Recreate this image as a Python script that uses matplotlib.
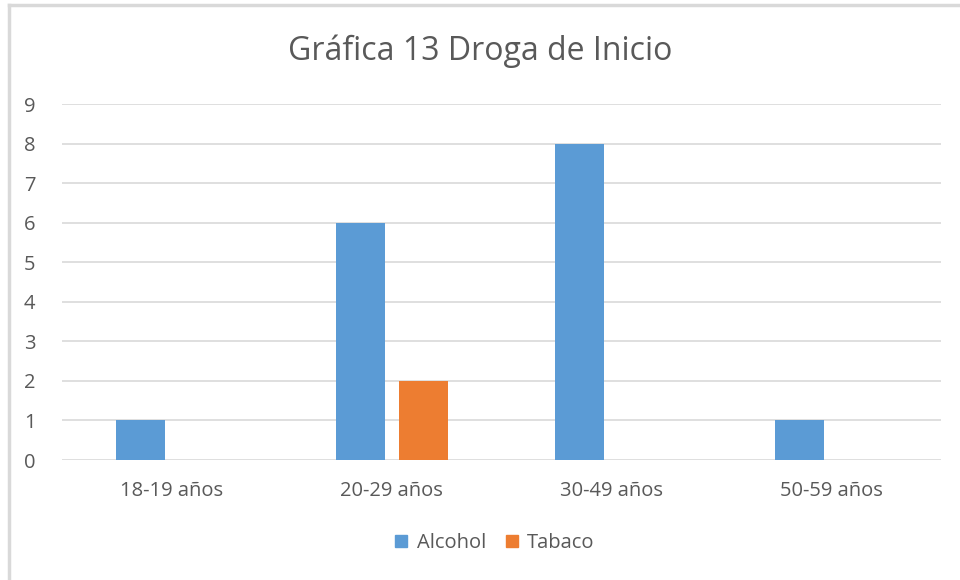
import matplotlib
matplotlib.use("Agg")
import matplotlib.pyplot as plt
import numpy as np
from matplotlib.lines import Line2D

plt.rcParams["font.family"] = ["Open Sans", "DejaVu Sans"]

categories = ["18-19 años", "20-29 años", "30-49 años", "50-59 años"]
alcohol = [1, 6, 8, 1]
tabaco = [0, 2, 0, 0]
series_names = ["Alcohol", "Tabaco"]

C_ALC = "#5b9bd5"
C_TAB = "#ed7d31"
C_TXT = "#595959"
C_GRID = "#d9d9d9"

fig = plt.figure(figsize=(9.6, 5.8), dpi=100)
ax = fig.add_axes([62 / 960, 1 - 460 / 580, 879 / 960, 356 / 580])

x = np.arange(len(categories))
w = 0.223
off = 0.143
ax.bar(x - off, alcohol, w, color=C_ALC, linewidth=0, zorder=3)
ax.bar(x + off, tabaco, w, color=C_TAB, linewidth=0, zorder=3)

ax.set_xlim(-0.5, len(categories) - 0.5)
ax.set_ylim(0, 9)
ax.set_yticks(range(0, 10))
ax.set_xticks(x)
ax.set_xticklabels(categories)
ax.tick_params(axis="both", length=0, labelsize=14.5, colors=C_TXT)
ax.tick_params(axis="y", pad=19)
ax.tick_params(axis="x", pad=15)
ax.grid(axis="y", color=C_GRID, linewidth=1.2, zorder=0)
for s in ax.spines.values():
    s.set_visible(False)

fig.text(0.5, 1 - 51 / 580, "Gráfica 13 Droga de Inicio", ha="center", va="center",
         fontsize=23, color=C_TXT)

handles = [Line2D([], [], marker="s", linestyle="", markersize=8, color=c)
           for c in (C_ALC, C_TAB)]
fig.legend(handles, series_names, loc="center", bbox_to_anchor=(494 / 960, 1 - 543 / 580),
           ncol=2, frameon=False, fontsize=14.5, labelcolor=C_TXT,
           handlelength=0.8, handletextpad=0.35, columnspacing=0.9)

# chart border (left and top visible in the crop)
fig.add_artist(Line2D([9 / 960, 9 / 960], [0, 1 - 5 / 580], color="#d9d9d9",
                      linewidth=2.5, transform=fig.transFigure))
fig.add_artist(Line2D([9 / 960, 1], [1 - 5 / 580, 1 - 5 / 580], color="#d9d9d9",
                      linewidth=2.5, transform=fig.transFigure))

fig.savefig("out.png", dpi=100)
